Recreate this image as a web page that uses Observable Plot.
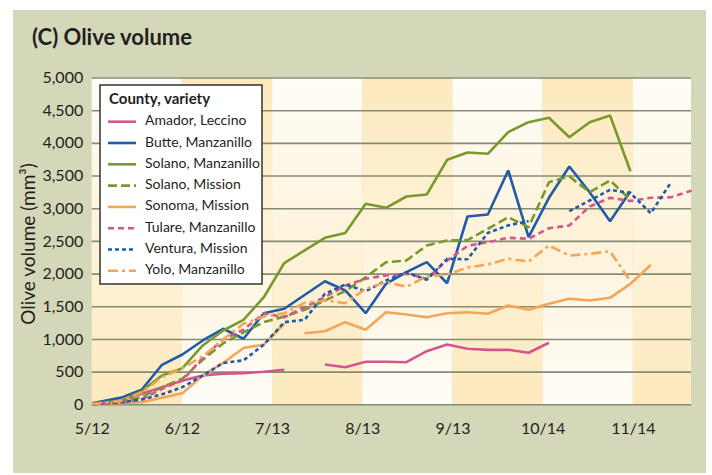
<!DOCTYPE html>
<html><head><meta charset="utf-8">
<script src="https://cdn.jsdelivr.net/npm/d3@7"></script>
<script src="https://cdn.jsdelivr.net/npm/@observablehq/plot@0.6"></script>
<style>
body{margin:0;background:#fff;width:712px;height:475px;overflow:hidden;font-family:Lato,"Open Sans",sans-serif;color:#231f20}
#panel{position:absolute;left:13px;top:10px;width:693px;height:463px;background:#d4d8b8}
#title{position:absolute;left:19px;top:13px;font-weight:700;font-size:22px;font-family:Lato,sans-serif;color:#231f20}
#chart{position:absolute;left:0;top:50px}
</style></head><body>
<div id="panel"><div id="title">(C) Olive volume</div><div id="chart"></div></div>
<script>
// ---- data ----
const sampleDates = ["2012-05-12","2012-05-22","2012-05-29","2012-06-05","2012-06-12","2012-06-19","2012-06-26","2012-07-03","2012-07-10","2012-07-17","2012-07-24","2012-07-31","2012-08-07","2012-08-14","2012-08-21","2012-08-28","2012-09-04","2012-09-11","2012-09-18","2012-09-25","2012-10-02","2012-10-09","2012-10-16","2012-10-23","2012-10-30","2012-11-06","2012-11-13","2012-11-20","2012-11-27","2012-12-04"];
const tickDates = ["2012-05-12","2012-06-12","2012-07-13","2012-08-13","2012-09-13","2012-10-14","2012-11-14"];
const tickLabels = ["5/12","6/12","7/13","8/13","9/13","10/14","11/14"];
const xEndDate = "2012-12-04";
const yTicks = [0,500,1000,1500,2000,2500,3000,3500,4000,4500,5000];
const seriesNames = ["Amador, Leccino","Butte, Manzanillo","Solano, Manzanillo","Solano, Mission","Sonoma, Mission","Tulare, Manzanillo","Ventura, Mission","Yolo, Manzanillo"];

const amador       = [10,60,170,270,370,450,474,484,505,535,null,617,575,658,658,652,820,922,857,841,841,796,949];
const butte        = [25,110,230,612,770,984,1163,1010,1401,1469,1680,1891,1749,1401,1851,2029,2182,1860,2881,2912,3585,2564,3167,3646,3253,2809,3268];
const solanoManz   = [20,60,210,448,560,908,1137,1300,1646,2167,2362,2555,2630,3075,3014,3187,3218,3748,3860,3840,4171,4324,4391,4094,4324,4426,3574];
const solanoMiss   = [10,40,115,270,400,690,940,1110,1264,1351,1453,1596,1740,1952,2182,2208,2437,2514,2520,2693,2870,2717,3406,3493,3253,3432,3137];
const sonomaEarly  = [15,25,40,107,178,448,640,870,920,1240];
const sonomaLate   = [null,null,null,null,null,null,null,null,null,null,1095,1126,1264,1148,1417,1382,1340,1401,1417,1392,1519,1453,1545,1622,1596,1637,1851,2140];
const tulare       = [10,30,80,245,372,720,1000,1150,1400,1340,1493,1646,1825,1928,1978,2004,1928,2208,2430,2488,2555,2540,2702,2743,3034,3167,3120,3167,3176,3279];
const ventura      = [10,40,80,160,270,448,640,680,920,1264,1300,1698,1840,1738,1902,2029,1912,2234,2226,2630,2745,2810,null,2962,3126,3289,3240,2931,3406];
const yolo         = [10,60,190,422,560,740,1000,1239,1351,1400,1560,1596,1555,1775,1876,1805,1965,1990,2100,2146,2234,2192,2437,2284,2310,2350,1890];

// ---- styles ----
const PINK="#d5568d", BLUE="#1f5ba8", GREEN="#789a2c", ORANGE="#f5a558";
const styles = [
  {color:PINK,   dash:null},
  {color:BLUE,   dash:null},
  {color:GREEN,  dash:null},
  {color:GREEN,  dash:"9,4"},
  {color:ORANGE, dash:null},
  {color:PINK,   dash:"6,4"},
  {color:BLUE,   dash:"4,3"},
  {color:ORANGE, dash:"10,4,3,4"}
];
const seriesValues = [[amador],[butte],[solanoManz],[solanoMiss],[sonomaEarly,sonomaLate],[tulare],[ventura],[yolo]];

const parse = s => new Date(s + "T00:00:00Z");
const rowsOf = vals => sampleDates.map((d,i)=>({date:parse(d), value:(vals[i]==null?NaN:vals[i])}));

const bands = tickDates.map((t,i)=>({x1:parse(t), x2:parse(tickDates[i+1] ?? xEndDate), y1:0, y2:5000}));

const lineMarks = [];
seriesValues.forEach((parts,si)=>{
  parts.forEach(vals=>{
    lineMarks.push(Plot.line(rowsOf(vals), {x:"date", y:"value", stroke:styles[si].color, strokeWidth:2.6,
      strokeDasharray: styles[si].dash ?? undefined, strokeLinejoin:"miter", strokeLinecap:"butt"}));
  });
});

const fmt = d3.format(",");
const W=693, H=410;
const svg = Plot.plot({
  width:W, height:H,
  marginLeft:78.7, marginRight:15, marginTop:17.5, marginBottom:65.7,
  style:{background:"transparent", fontFamily:"Lato, 'Open Sans', sans-serif", fontSize:"16px", color:"#231f20"},
  x:{type:"utc", domain:[parse(tickDates[0]), parse(xEndDate)], ticks:tickDates.map(parse),
     tickFormat:d=>tickLabels[tickDates.findIndex(t=>+parse(t)===+d)], tickSize:0, tickPadding:18, label:null},
  y:{domain:[0,5000], ticks:yTicks, tickFormat:fmt, tickSize:0, tickPadding:9, label:null},
  marks:[
    Plot.rect(bands, {x1:"x1", x2:"x2", y1:"y1", y2:"y2", fill:"#fdebc3"}),
    Plot.ruleY(yTicks, {stroke:"#858c75", strokeWidth:1.6}),
    ...lineMarks
  ]
});

const root = d3.select(svg);
const defs = root.insert("defs", ":first-child");
const mk = (id, top, bottom) => {
  const g = defs.append("linearGradient").attr("id", id).attr("x1",0).attr("y1",0).attr("x2",0).attr("y2",1);
  g.append("stop").attr("offset","0%").attr("stop-color",top);
  g.append("stop").attr("offset","100%").attr("stop-color",bottom);
};
mk("gWY","#fffdf8","#fde9bd");
mk("gYW","#fde9bd","#fffdf8");
root.selectAll('g[aria-label="rect"] rect').each(function(_,i){
  d3.select(this).attr("fill", i%2===0 ? "url(#gWY)" : "url(#gYW)");
});

// y-axis title
root.append("text").attr("transform","translate(17,184) rotate(-90)")
  .attr("text-anchor","middle").attr("dominant-baseline","middle")
  .style("font-size","19px").style("font-family","Lato, sans-serif").attr("fill","#231f20")
  .text("Olive volume (mm³)");

// legend
const lg = root.append("g").attr("transform","translate(87,25)").attr("text-anchor","start");
lg.append("rect").attr("width",162).attr("height",199).attr("fill","#fff").attr("stroke","#333").attr("stroke-width",1.5);
lg.append("text").attr("x",9).attr("y",15).attr("dominant-baseline","middle").attr("text-anchor","start")
  .style("font-weight","700").style("font-size","15px").attr("fill","#231f20").text("County, variety");
seriesNames.forEach((n,i)=>{
  const y = 36.7 + i*21.3;
  lg.append("line").attr("x1",8).attr("x2",36).attr("y1",y).attr("y2",y)
    .attr("stroke",styles[i].color).attr("stroke-width",2.6).attr("stroke-dasharray",styles[i].dash);
  lg.append("text").attr("x",45).attr("y",y).attr("dominant-baseline","middle").attr("text-anchor","start")
    .style("font-size","14px").attr("fill","#231f20").text(n);
});

document.getElementById("chart").appendChild(svg);
</script>
</body></html>
